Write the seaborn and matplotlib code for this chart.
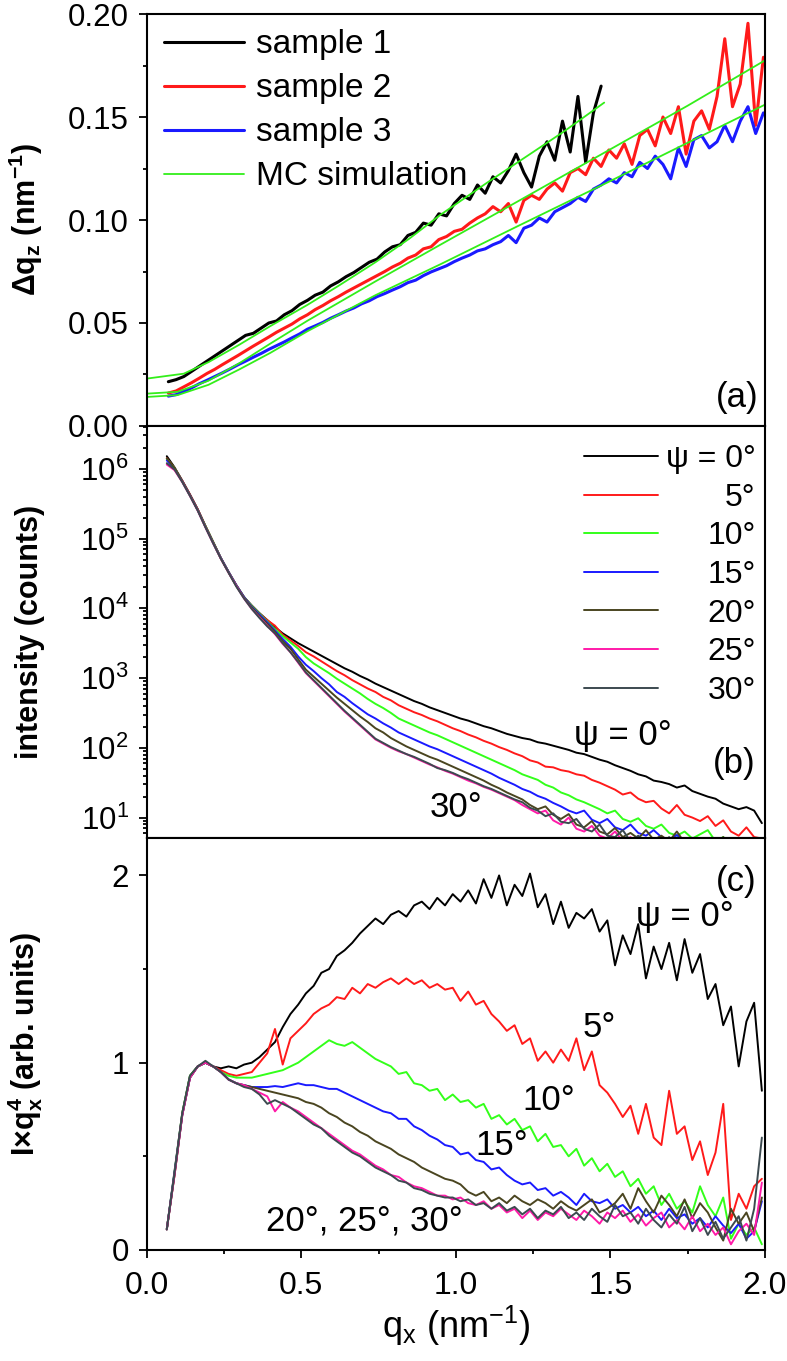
import numpy as np
import matplotlib
matplotlib.use('Agg')
import matplotlib.pyplot as plt
import seaborn as sns
from matplotlib.ticker import MultipleLocator, LogLocator, NullFormatter

# ---------------- panel (a): width of the specular peak ----------------
q_a = np.round(0.07 + 0.025 * np.arange(78), 3)

dqz_sample1 = [0.0215, 0.0225, 0.0240, 0.0265, 0.0290, 0.0315, 0.0340, 0.0365, 0.0390, 0.0415,
               0.0440, 0.0450, 0.0475, 0.0500, 0.0510, 0.0540, 0.0560, 0.0590, 0.0610, 0.0635,
               0.0650, 0.0680, 0.0700, 0.0725, 0.0745, 0.0770, 0.0795, 0.0810, 0.0845, 0.0870,
               0.0880, 0.0925, 0.0940, 0.0985, 0.0975, 0.1030, 0.1020, 0.1080, 0.1120, 0.1100,
               0.1170, 0.1130, 0.1210, 0.1180, 0.1240, 0.1320, 0.1230, 0.1160, 0.1310, 0.1380,
               0.1290, 0.1480, 0.1330, 0.1600, 0.1280, 0.1520, 0.1650]
dqz_sample2 = [0.0160, 0.0170, 0.0190, 0.0210, 0.0232, 0.0255, 0.0275, 0.0298, 0.0320, 0.0342,
               0.0365, 0.0388, 0.0410, 0.0432, 0.0455, 0.0475, 0.0495, 0.0520, 0.0540, 0.0565,
               0.0585, 0.0608, 0.0628, 0.0650, 0.0670, 0.0690, 0.0710, 0.0730, 0.0750, 0.0772,
               0.0790, 0.0815, 0.0830, 0.0860, 0.0870, 0.0905, 0.0920, 0.0945, 0.0955, 0.0985,
               0.1010, 0.1030, 0.1065, 0.1040, 0.1080, 0.0990, 0.1095, 0.1120, 0.1100, 0.1150,
               0.1180, 0.1140, 0.1230, 0.1250, 0.1220, 0.1300, 0.1260, 0.1340, 0.1300, 0.1370,
               0.1270, 0.1410, 0.1440, 0.1360, 0.1500, 0.1420, 0.1550, 0.1320, 0.1480, 0.1530,
               0.1440, 0.1600, 0.1880, 0.1550, 0.1660, 0.1955, 0.1460, 0.1790]
dqz_sample3 = [0.0145, 0.0152, 0.0168, 0.0185, 0.0205, 0.0222, 0.0240, 0.0258, 0.0277, 0.0297,
               0.0315, 0.0334, 0.0352, 0.0372, 0.0390, 0.0408, 0.0428, 0.0447, 0.0470, 0.0486,
               0.0503, 0.0523, 0.0540, 0.0558, 0.0573, 0.0593, 0.0608, 0.0628, 0.0643, 0.0660,
               0.0676, 0.0696, 0.0708, 0.0730, 0.0748, 0.0763, 0.0778, 0.0798, 0.0815, 0.0830,
               0.0850, 0.0860, 0.0880, 0.0895, 0.0925, 0.0890, 0.0960, 0.0975, 0.1010, 0.0990,
               0.1040, 0.1060, 0.1080, 0.1110, 0.1090, 0.1150, 0.1170, 0.1200, 0.1180, 0.1230,
               0.1210, 0.1280, 0.1250, 0.1310, 0.1270, 0.1200, 0.1350, 0.1260, 0.1390, 0.1410,
               0.1350, 0.1380, 0.1460, 0.1380, 0.1480, 0.1550, 0.1420, 0.1520]

mc_q1 = [0.0, 0.12, 0.2, 0.3, 0.4, 0.52, 0.62, 0.74, 0.85, 0.95, 1.1, 1.2, 1.35, 1.48]
mc_dqz1 = [0.0230, 0.0254, 0.0310, 0.0395, 0.0485, 0.0588, 0.0680, 0.0795, 0.0910, 0.1025,
           0.1180, 0.1280, 0.1430, 0.1570]
mc_q23 = [0.0, 0.1, 0.2, 0.3, 0.4, 0.52, 0.74, 0.95, 1.2, 1.49, 1.75, 2.0]
mc_dqz2 = [0.0157, 0.0166, 0.0220, 0.0305, 0.0400, 0.0511, 0.0702, 0.0880, 0.1090, 0.1335, 0.1555, 0.1775]
mc_dqz3 = [0.0141, 0.0150, 0.0200, 0.0275, 0.0355, 0.0460, 0.0635, 0.0785, 0.0970, 0.1182, 0.1375, 0.1560]

# ---------------- panels (b), (c): psi series ----------------
q_bc = np.round(0.065 + 0.025 * np.arange(78), 3)
psi_labels = ['ψ = 0°', '5°', '10°', '15°', '20°', '25°', '30°']
psi_colors = ['#000000', '#ff1a1a', '#33ff1a', '#1a1aff', '#4a4520', '#ff1aa8', '#3c4a50']

# log10(intensity)
log_int = [
    [6.18, 6.02, 5.83, 5.63, 5.42, 5.18, 4.95, 4.72, 4.52, 4.33,
     4.16, 4.04, 3.93, 3.83, 3.73, 3.64, 3.57, 3.50, 3.44, 3.38,
     3.32, 3.26, 3.20, 3.14, 3.09, 3.03, 2.98, 2.92, 2.87, 2.82,
     2.77, 2.72, 2.67, 2.63, 2.58, 2.54, 2.50, 2.46, 2.42, 2.39,
     2.35, 2.31, 2.28, 2.24, 2.20, 2.17, 2.14, 2.12, 2.08, 2.06,
     2.03, 2.00, 1.97, 1.93, 1.91, 1.87, 1.83, 1.80, 1.75, 1.71,
     1.67, 1.62, 1.59, 1.53, 1.51, 1.48, 1.43, 1.46, 1.38, 1.34,
     1.30, 1.27, 1.20, 1.16, 1.12, 1.15, 1.10, 0.92],
    [6.15, 6.01, 5.83, 5.63, 5.42, 5.18, 4.95, 4.72, 4.52, 4.33,
     4.16, 4.03, 3.92, 3.83, 3.75, 3.62, 3.54, 3.46, 3.37, 3.31,
     3.24, 3.17, 3.10, 3.04, 2.97, 2.91, 2.85, 2.80, 2.73, 2.68,
     2.61, 2.56, 2.51, 2.47, 2.42, 2.38, 2.33, 2.28, 2.24, 2.19,
     2.15, 2.10, 2.06, 2.01, 1.97, 1.92, 1.88, 1.82, 1.79, 1.73,
     1.72, 1.68, 1.66, 1.62, 1.60, 1.54, 1.50, 1.45, 1.40, 1.33,
     1.36, 1.27, 1.22, 1.24, 1.13, 1.06, 1.18, 1.04, 1.00, 0.95,
     1.02, 0.88, 0.96, 0.80, 0.74, 0.86, 0.72, 0.70],
    [6.14, 6.01, 5.82, 5.62, 5.41, 5.18, 4.95, 4.72, 4.52, 4.33,
     4.16, 4.03, 3.92, 3.81, 3.70, 3.60, 3.51, 3.42, 3.30, 3.21,
     3.14, 3.07, 2.99, 2.92, 2.85, 2.78, 2.70, 2.63, 2.57, 2.50,
     2.42, 2.37, 2.32, 2.27, 2.22, 2.18, 2.13, 2.08, 2.03, 1.98,
     1.93, 1.88, 1.83, 1.78, 1.73, 1.68, 1.62, 1.58, 1.54, 1.47,
     1.43, 1.36, 1.32, 1.26, 1.22, 1.17, 1.12, 1.06, 1.10, 0.98,
     0.94, 0.99, 0.88, 0.84, 0.90, 0.78, 0.74, 0.80, 0.70, 0.76,
     0.82, 0.66, 0.72, 0.62, 0.68, 0.60, 0.66, 0.58],
    [6.12, 6.00, 5.82, 5.62, 5.41, 5.17, 4.94, 4.72, 4.52, 4.33,
     4.16, 4.02, 3.91, 3.80, 3.68, 3.56, 3.45, 3.31, 3.19, 3.10,
     3.00, 2.91, 2.80, 2.73, 2.64, 2.56, 2.48, 2.42, 2.35, 2.29,
     2.22, 2.17, 2.12, 2.07, 2.02, 1.98, 1.93, 1.88, 1.83, 1.78,
     1.73, 1.68, 1.63, 1.57, 1.52, 1.47, 1.41, 1.37, 1.31, 1.27,
     1.21, 1.16, 1.10, 1.06, 1.10, 0.97, 0.92, 0.98, 0.86, 0.82,
     0.90, 0.78, 0.74, 0.82, 0.72, 0.68, 0.75, 0.66, 0.71, 0.64,
     0.69, 0.62, 0.66, 0.60, 0.64, 0.58, 0.62, 0.60],
    [6.15, 6.01, 5.82, 5.62, 5.41, 5.17, 4.94, 4.71, 4.51, 4.32,
     4.15, 4.01, 3.89, 3.78, 3.66, 3.53, 3.42, 3.27, 3.12, 3.02,
     2.92, 2.82, 2.72, 2.63, 2.54, 2.45, 2.37, 2.28, 2.22, 2.14,
     2.08, 2.02, 1.97, 1.92, 1.87, 1.83, 1.78, 1.73, 1.68, 1.63,
     1.58, 1.53, 1.47, 1.42, 1.36, 1.31, 1.26, 1.18, 1.12, 1.16,
     1.04, 0.98, 1.05, 0.90, 0.86, 0.95, 0.80, 0.76, 0.85, 0.72,
     0.78, 0.70, 0.82, 0.68, 0.74, 0.66, 0.80, 0.64, 0.70, 0.62,
     0.68, 0.60, 0.72, 0.58, 0.66, 0.60, 0.64, 0.58],
    [6.06, 5.98, 5.81, 5.61, 5.40, 5.16, 4.93, 4.71, 4.51, 4.32,
     4.14, 3.99, 3.87, 3.75, 3.63, 3.49, 3.37, 3.22, 3.07, 2.96,
     2.85, 2.74, 2.63, 2.52, 2.42, 2.32, 2.22, 2.12, 2.06, 2.00,
     1.95, 1.91, 1.86, 1.81, 1.76, 1.72, 1.67, 1.63, 1.58, 1.53,
     1.49, 1.44, 1.40, 1.35, 1.30, 1.25, 1.18, 1.12, 1.06, 1.10,
     0.96, 0.90, 1.00, 0.84, 0.80, 0.88, 0.74, 0.70, 0.80, 0.66,
     0.72, 0.62, 0.70, 0.60, 0.67, 0.58, 0.66, 0.56, 0.64, 0.55,
     0.62, 0.54, 0.60, 0.52, 0.58, 0.50, 0.56, 0.50],
    [6.08, 5.99, 5.81, 5.61, 5.40, 5.16, 4.93, 4.71, 4.51, 4.31,
     4.14, 3.99, 3.86, 3.74, 3.64, 3.50, 3.37, 3.23, 3.08, 2.97,
     2.86, 2.75, 2.64, 2.53, 2.43, 2.33, 2.23, 2.13, 2.07, 2.01,
     1.96, 1.91, 1.87, 1.82, 1.77, 1.71, 1.68, 1.64, 1.59, 1.55,
     1.50, 1.45, 1.41, 1.36, 1.31, 1.26, 1.22, 1.14, 1.10, 1.02,
     1.06, 0.94, 0.92, 0.98, 0.84, 0.80, 0.90, 0.74, 0.72, 0.82,
     0.66, 0.74, 0.64, 0.70, 0.62, 0.72, 0.60, 0.68, 0.58, 0.66,
     0.57, 0.64, 0.56, 0.62, 0.55, 0.60, 0.54, 0.62],
]

# I*q^4, normalised
iq4 = [
    [0.11, 0.42, 0.73, 0.93, 0.98, 1.00, 0.98, 0.97, 0.98, 0.97,
     0.99, 1.00, 1.03, 1.07, 1.11, 1.19, 1.26, 1.31, 1.37, 1.41,
     1.48, 1.50, 1.57, 1.60, 1.64, 1.69, 1.73, 1.77, 1.74, 1.79,
     1.81, 1.78, 1.84, 1.86, 1.82, 1.88, 1.84, 1.90, 1.86, 1.92,
     1.85, 1.98, 1.88, 2.00, 1.84, 1.95, 1.89, 2.01, 1.83, 1.90,
     1.74, 1.86, 1.72, 1.80, 1.77, 1.82, 1.70, 1.76, 1.52, 1.68,
     1.58, 1.74, 1.45, 1.62, 1.50, 1.64, 1.44, 1.66, 1.48, 1.58,
     1.34, 1.42, 1.20, 1.30, 0.98, 1.22, 1.32, 0.85],
    [0.11, 0.40, 0.72, 0.92, 0.98, 1.00, 0.98, 0.96, 0.94, 0.93,
     0.94, 0.95, 1.00, 1.05, 1.18, 0.99, 1.13, 1.17, 1.21, 1.26,
     1.29, 1.31, 1.35, 1.34, 1.40, 1.37, 1.42, 1.40, 1.43, 1.45,
     1.42, 1.45, 1.42, 1.44, 1.40, 1.42, 1.39, 1.40, 1.33, 1.38,
     1.31, 1.33, 1.26, 1.22, 1.17, 1.20, 1.10, 1.13, 1.01, 1.06,
     1.00, 1.07, 1.01, 1.13, 0.96, 1.06, 0.88, 0.84, 0.78, 0.71,
     0.77, 0.62, 0.78, 0.60, 0.56, 0.85, 0.62, 0.66, 0.48, 0.58,
     0.40, 0.52, 0.78, 0.16, 0.30, 0.22, 0.34, 0.38],
    [0.11, 0.41, 0.73, 0.93, 0.98, 1.00, 0.98, 0.95, 0.93, 0.92,
     0.92, 0.92, 0.93, 0.94, 0.95, 0.96, 0.98, 1.00, 1.03, 1.06,
     1.09, 1.12, 1.10, 1.09, 1.11, 1.08, 1.05, 1.02, 1.00, 0.98,
     0.94, 0.95, 0.89, 0.88, 0.85, 0.86, 0.80, 0.83, 0.79, 0.80,
     0.76, 0.78, 0.70, 0.72, 0.67, 0.70, 0.64, 0.66, 0.58, 0.62,
     0.55, 0.56, 0.50, 0.54, 0.45, 0.49, 0.42, 0.46, 0.39, 0.42,
     0.34, 0.38, 0.30, 0.34, 0.24, 0.30, 0.22, 0.26, 0.20, 0.34,
     0.24, 0.18, 0.28, 0.06, 0.14, 0.08, 0.12, 0.03],
    [0.11, 0.41, 0.72, 0.92, 0.98, 1.00, 0.98, 0.95, 0.91, 0.89,
     0.88, 0.87, 0.87, 0.87, 0.875, 0.87, 0.88, 0.89, 0.88, 0.88,
     0.87, 0.86, 0.86, 0.84, 0.82, 0.80, 0.78, 0.76, 0.74, 0.73,
     0.70, 0.70, 0.66, 0.64, 0.61, 0.59, 0.56, 0.55, 0.51, 0.52,
     0.48, 0.47, 0.43, 0.44, 0.40, 0.37, 0.35, 0.36, 0.32, 0.33,
     0.29, 0.31, 0.28, 0.24, 0.30, 0.26, 0.25, 0.27, 0.22, 0.24,
     0.20, 0.23, 0.18, 0.21, 0.16, 0.22, 0.17, 0.19, 0.14, 0.17,
     0.12, 0.18, 0.13, 0.09, 0.14, 0.06, 0.10, 0.26],
    [0.11, 0.40, 0.72, 0.92, 0.98, 1.00, 0.98, 0.95, 0.91, 0.89,
     0.88, 0.87, 0.86, 0.85, 0.84, 0.83, 0.82, 0.81, 0.79, 0.78,
     0.76, 0.73, 0.71, 0.68, 0.66, 0.63, 0.61, 0.58, 0.56, 0.54,
     0.51, 0.49, 0.47, 0.44, 0.42, 0.40, 0.38, 0.37, 0.35, 0.31,
     0.29, 0.31, 0.26, 0.28, 0.25, 0.29, 0.26, 0.24, 0.27, 0.25,
     0.22, 0.26, 0.23, 0.21, 0.24, 0.27, 0.20, 0.22, 0.25, 0.30,
     0.22, 0.33, 0.26, 0.20, 0.29, 0.24, 0.18, 0.27, 0.17, 0.25,
     0.20, 0.12, 0.05, 0.22, 0.14, 0.20, 0.10, 0.28],
    [0.11, 0.40, 0.72, 0.92, 0.98, 1.00, 0.98, 0.95, 0.91, 0.89,
     0.88, 0.86, 0.84, 0.82, 0.74, 0.79, 0.76, 0.74, 0.71, 0.68,
     0.65, 0.62, 0.59, 0.56, 0.53, 0.51, 0.48, 0.45, 0.43, 0.40,
     0.39, 0.36, 0.34, 0.33, 0.31, 0.29, 0.29, 0.27, 0.28, 0.25,
     0.24, 0.26, 0.22, 0.24, 0.20, 0.22, 0.17, 0.21, 0.16, 0.20,
     0.18, 0.22, 0.19, 0.16, 0.21, 0.18, 0.14, 0.20, 0.17, 0.21,
     0.15, 0.19, 0.13, 0.17, 0.20, 0.12, 0.16, 0.11, 0.18, 0.10,
     0.14, 0.08, 0.12, 0.03, 0.10, 0.14, 0.08, 0.36],
    [0.11, 0.41, 0.73, 0.93, 0.98, 1.01, 0.98, 0.95, 0.91, 0.89,
     0.87, 0.86, 0.83, 0.78, 0.80, 0.78, 0.76, 0.73, 0.70, 0.67,
     0.65, 0.61, 0.58, 0.55, 0.52, 0.50, 0.47, 0.44, 0.42, 0.40,
     0.37, 0.36, 0.33, 0.32, 0.30, 0.29, 0.28, 0.28, 0.26, 0.27,
     0.24, 0.25, 0.22, 0.25, 0.21, 0.23, 0.19, 0.22, 0.17, 0.21,
     0.19, 0.23, 0.17, 0.20, 0.16, 0.22, 0.18, 0.15, 0.24, 0.18,
     0.20, 0.14, 0.22, 0.16, 0.12, 0.19, 0.14, 0.23, 0.10, 0.17,
     0.08, 0.15, 0.06, 0.12, 0.18, 0.05, 0.22, 0.60],
]

# ---------------- style ----------------
sns.set_theme(style='ticks')
plt.rcParams['font.family'] = ['Liberation Sans', 'DejaVu Sans']
plt.rcParams.update({
    'mathtext.fontset': 'custom',
    'mathtext.rm': 'Liberation Sans',
    'mathtext.it': 'Liberation Sans:italic',
    'mathtext.bf': 'Liberation Sans:bold',
    'mathtext.default': 'regular',
    'axes.linewidth': 1.5,
    'axes.edgecolor': 'black',
    'text.color': 'black',
    'axes.labelcolor': 'black',
    'xtick.color': 'black',
    'ytick.color': 'black',
    'xtick.labelcolor': 'black',
    'ytick.labelcolor': 'black',
})

fig, axes = plt.subplots(3, 1, figsize=(7.87, 13.61), dpi=100, sharex=True)
fig.subplots_adjust(left=0.1864, right=0.972, top=0.9897, bottom=0.0816, hspace=0)
ax_a, ax_b, ax_c = axes

for ax in axes:
    ax.tick_params(which='both', direction='out', left=True, bottom=True,
                   right=False, top=False, color='black', labelcolor='black', width=1.3)
    ax.tick_params(which='major', length=6, pad=7, labelsize=22.5)
    ax.tick_params(which='minor', length=3)
    ax.tick_params(axis='x', labelsize=23, pad=9)
    for s in ax.spines.values():
        s.set_visible(True)
        s.set_linewidth(1.5)
        s.set_color('black')
    ax.set_xlim(0, 2.0)
    ax.xaxis.set_major_locator(MultipleLocator(0.5))
    ax.xaxis.set_minor_locator(MultipleLocator(0.25))

# ---- (a) ----
sns.lineplot(x=q_a[:len(dqz_sample1)], y=dqz_sample1, ax=ax_a, color='black', lw=2.2,
             estimator=None, sort=False, label='sample 1', legend=False)
sns.lineplot(x=q_a, y=dqz_sample2, ax=ax_a, color='#ff1a1a', lw=2.2,
             estimator=None, sort=False, label='sample 2', legend=False)
sns.lineplot(x=q_a, y=dqz_sample3, ax=ax_a, color='#1a1aff', lw=2.2,
             estimator=None, sort=False, label='sample 3', legend=False)
sns.lineplot(x=mc_q1, y=mc_dqz1, ax=ax_a, color='#33ee1a', lw=1.3,
             estimator=None, sort=False, label='MC simulation', legend=False)
sns.lineplot(x=mc_q23, y=mc_dqz2, ax=ax_a, color='#33ee1a', lw=1.3,
             estimator=None, sort=False, legend=False)
sns.lineplot(x=mc_q23, y=mc_dqz3, ax=ax_a, color='#33ee1a', lw=1.3,
             estimator=None, sort=False, legend=False)
ax_a.set_ylim(0, 0.2)
ax_a.yaxis.set_major_locator(MultipleLocator(0.05))
ax_a.yaxis.set_minor_locator(MultipleLocator(0.025))
ax_a.set_ylabel('Δq$_\\mathbf{z}$ (nm$^\\mathbf{-1}$)', fontsize=22, fontweight='bold')
lines_a = ax_a.get_lines()[:4]
ax_a.legend(lines_a, ['sample 1', 'sample 2', 'sample 3', 'MC simulation'],
            loc='upper left', bbox_to_anchor=(0.028, 0.963), frameon=False, fontsize=24,
            handlelength=2.4, handletextpad=0.35, labelspacing=0.39,
            borderpad=0, borderaxespad=0)
ax_a.text(1.91, 0.014, '(a)', fontsize=25, ha='center', va='center')

# ---- (b) ----
for lab, col, vals in zip(psi_labels, psi_colors, log_int):
    sns.lineplot(x=q_bc, y=10 ** np.array(vals), ax=ax_b, color=col, lw=1.4,
                 estimator=None, sort=False, label=lab, legend=False)
ax_b.set_yscale('log')
ax_b.set_ylim(5.1, 4.1e6)
ax_b.yaxis.set_major_locator(LogLocator(base=10, numticks=10))
ax_b.yaxis.set_minor_locator(LogLocator(base=10, subs=np.arange(2, 10), numticks=20))
ax_b.yaxis.set_minor_formatter(NullFormatter())
ax_b.set_ylabel('intensity (counts)', fontsize=22, fontweight='bold')
leg_b = ax_b.legend(ax_b.get_lines(), psi_labels, loc='upper right',
                    bbox_to_anchor=(0.985, 0.956), frameon=False, fontsize=23,
                    handlelength=2.3, handletextpad=0.25, labelspacing=0.27,
                    borderpad=0, borderaxespad=0)
# right-align the legend labels (numbers line up on the right)
fig.canvas.draw()
renderer = fig.canvas.get_renderer()
widths = [t.get_window_extent(renderer).width for t in leg_b.get_texts()]
wmax = max(widths)
for t, w in zip(leg_b.get_texts(), widths):
    t.set_position((wmax - w, 0))
ax_b.text(1.54, 151, 'ψ = 0°', fontsize=25, ha='center', va='center')
ax_b.text(1.0, 13.8, '30°', fontsize=25, ha='center', va='center')
ax_b.text(1.90, 60, '(b)', fontsize=25, ha='center', va='center')

# ---- (c) ----
for lab, col, vals in zip(psi_labels, psi_colors, iq4):
    sns.lineplot(x=q_bc, y=vals, ax=ax_c, color=col, lw=1.4,
                 estimator=None, sort=False, legend=False)
ax_c.set_ylim(0, 2.2)
ax_c.yaxis.set_major_locator(MultipleLocator(1))
ax_c.yaxis.set_minor_locator(MultipleLocator(0.5))
ax_c.set_ylabel('I×q$_\\mathbf{x}^\\mathbf{4}$ (arb. units)', fontsize=22, fontweight='bold')
ax_c.set_xlabel('q$_x$ (nm$^{-1}$)', fontsize=26, labelpad=2)
ax_c.text(1.74, 1.78, 'ψ = 0°', fontsize=25, ha='center', va='center')
ax_c.text(1.464, 1.19, '5°', fontsize=25, ha='center', va='center')
ax_c.text(1.30, 0.80, '10°', fontsize=25, ha='center', va='center')
ax_c.text(1.15, 0.56, '15°', fontsize=25, ha='center', va='center')
ax_c.text(0.704, 0.154, '20°, 25°, 30°', fontsize=25, ha='center', va='center')
ax_c.text(1.907, 1.97, '(c)', fontsize=25, ha='center', va='center')

for ax in axes:
    ax.yaxis.set_label_coords(-0.165, 0.5)

fig.savefig('out.png', dpi=100)
